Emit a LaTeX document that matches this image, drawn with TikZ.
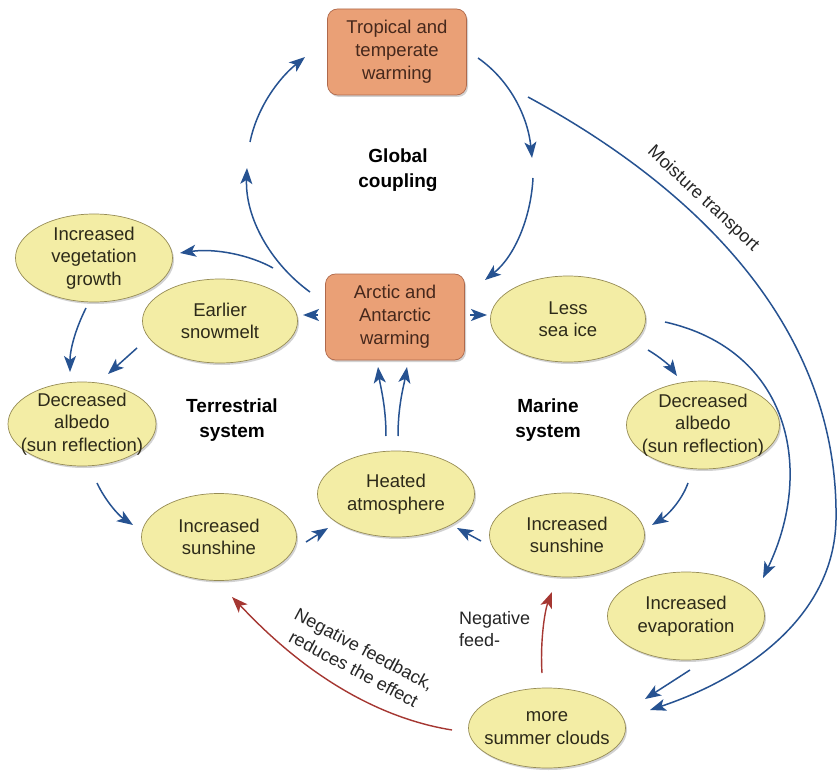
\documentclass[tikz,border=0pt]{standalone}
\usepackage{fontspec}
\newfontfamily\lsans{Liberation Sans}
\usetikzlibrary{shapes.geometric,arrows.meta,shadows,calc}
\definecolor{ellF}{RGB}{243,237,165}
\definecolor{ellD}{RGB}{150,140,85}
\definecolor{boxF}{RGB}{234,160,118}
\definecolor{boxD}{RGB}{175,105,75}
\definecolor{arrB}{RGB}{38,82,145}
\definecolor{arrR}{RGB}{165,55,50}
\definecolor{txtE}{RGB}{45,42,25}
\definecolor{txtB}{RGB}{70,40,28}
\begin{document}
\begin{tikzpicture}[x=1pt,y=-1pt,
  ell/.style={ellipse, draw=ellD, line width=0.7pt, fill=ellF, inner xsep=-30pt, inner ysep=-25pt,
    align=center, text=txtE, font=\lsans\fontsize{18.5}{22.5}\selectfont,
    drop shadow={shadow xshift=1.5pt, shadow yshift=-2pt, opacity=0.35}},
  bx/.style={rectangle, rounded corners=10pt, draw=boxD, fill=boxF, line width=0.7pt,
    minimum width=139pt, minimum height=86pt, inner sep=0pt, align=center, text=txtB,
    font=\lsans\fontsize{18.5}{23}\selectfont,
    drop shadow={shadow xshift=1.5pt, shadow yshift=-2pt, opacity=0.35}},
  lbl/.style={align=center, font=\lsans\bfseries\fontsize{19}{25}\selectfont, text=black},
  txtl/.style={font=\lsans\fontsize{18}{22.5}\selectfont, text=black!85, inner sep=0pt},
  arr/.style={draw=arrB, line width=1.5pt, -{Stealth[length=16pt,width=12pt,inset=4pt]}},
  rarr/.style={draw=arrR, line width=1.4pt, -{Stealth[length=16pt,width=12pt,inset=4pt]}}
]
\useasboundingbox (0,0) rectangle (839,773);
\fill[white] (0,0) rectangle (839,773);

% nodes
\node[bx] (trop) at (397,52) {Tropical and\\temperate\\warming};
\node[bx] (arct) at (395,317) {Arctic and\\Antarctic\\warming};
\node[ell, minimum width=157pt, minimum height=88pt] (veg) at (94,258) {Increased\\vegetation\\growth};
\node[ell, minimum width=155pt, minimum height=84pt] (snow) at (220,321) {Earlier\\snowmelt};
\node[ell, minimum width=148pt, minimum height=84pt] (albL) at (82,424) {Decreased\\albedo\\(sun reflection)};
\node[ell, minimum width=155pt, minimum height=87pt] (sunL) at (219,537) {Increased\\sunshine};
\node[ell, minimum width=157pt, minimum height=86pt] (heat) at (396,494) {Heated\\atmosphere};
\node[ell, minimum width=155pt, minimum height=86pt] (ice) at (568,319) {Less\\sea ice};
\node[ell, minimum width=153pt, minimum height=88pt] (albR) at (703,425) {Decreased\\albedo\\(sun reflection)};
\node[ell, minimum width=155pt, minimum height=84pt] (sunR) at (567,535) {Increased\\sunshine};
\node[ell, minimum width=157pt, minimum height=88pt] (evap) at (686,616) {Increased\\evaporation};
\node[ell, minimum width=157pt, minimum height=80pt] (cloud) at (547,728) {more\\summer clouds};

% labels
\node[lbl] (glob) at (398,170) {Global\\coupling};
\node[lbl] (terr) at (232,420) {Terrestrial\\system};
\node[lbl] (mar) at (548,420) {Marine\\system};
\node[txtl, rotate=-43] (moist) at (703,199) {Moisture transport};
\node[txtl, rotate=-28, align=center] (negL) at (359,659) {Negative feedback,\\reduces the effect};
\node[txtl, align=left, anchor=west] (negR) at (459,629) {Negative\\feed-};

% gap points of the global loop
\coordinate (gL1) at (247,168);
\coordinate (gL2) at (250,142);
\coordinate (gR1) at (532,158);
\coordinate (gR2) at (533,178);

% global coupling loop
\draw[arr] ($(arct)+(-85,-25)$) .. controls (270,263) and (245,217) .. (gL1);
\draw[arr] (gL2) .. controls (257,108) and (278,79) .. ($(trop)+(-92,5)$);
\draw[arr] ($(trop)+(81,6)$) .. controls (511,81) and (528,118) .. (gR1);
\draw[arr] (gR2) .. controls (531,217) and (515,256) .. ($(arct)+(90,-37)$);

% moisture transport
\draw[arr] ($(trop)+(131,45)$) .. controls (700,190) and (839,330) .. (836,520)
   .. controls (834,620) and (740,680) .. ($(cloud)+(103,-18)$);

% marine system
\draw[arr] ($(arct)+(75,-2)$) -- ($(ice)+(-81,-4)$);
\draw[arr] ($(ice)+(80,31)$) .. controls (660,357) and (670,366) .. ($(albR)+(-26,-49)$);
\draw[arr] ($(ice)+(97,3)$) .. controls (790,350) and (815,470) .. ($(evap)+(77,-38)$);
\draw[arr] ($(albR)+(-15,58)$) .. controls (682,500) and (668,515) .. ($(sunR)+(85,-10)$);
\draw[arr] ($(sunR)+(-86,6)$) -- ($(heat)+(61,34)$);
\draw[arr] ($(evap)+(4,54)$) -- ($(cloud)+(98,-29)$);

% terrestrial system
\draw[arr] ($(arct)+(-77,-2)$) -- ($(snow)+(83,-6)$);
\draw[arr] ($(snow)+(53,-53)$) .. controls (250,255) and (215,248) .. ($(veg)+(86,-5)$);
\draw[arr] ($(veg)+(-8,50)$) .. controls (75,330) and (70,350) .. ($(albL)+(-12,-52)$);
\draw[arr] ($(snow)+(-83,27)$) -- ($(albL)+(26,-50)$);
\draw[arr] ($(albL)+(15,59)$) .. controls (105,500) and (118,515) .. ($(sunL)+(-86,-12)$);
\draw[arr] ($(sunL)+(87,5)$) -- ($(heat)+(-68,34)$);

% heated atmosphere to arctic
\draw[arr] ($(heat)+(-10,-58)$) .. controls (386,405) and (380,385) .. ($(arct)+(-17,50)$);
\draw[arr] ($(heat)+(2,-58)$) .. controls (398,405) and (404,385) .. ($(arct)+(12,50)$);

% negative feedbacks
\draw[rarr] ($(cloud)+(-95,2)$) .. controls (340,712) and (262,628) .. ($(sunL)+(13,60)$);
\draw[rarr] ($(cloud)+(-5,-55)$) .. controls (540,640) and (545,610) .. ($(sunR)+(-15,57)$);
\end{tikzpicture}
\end{document}
